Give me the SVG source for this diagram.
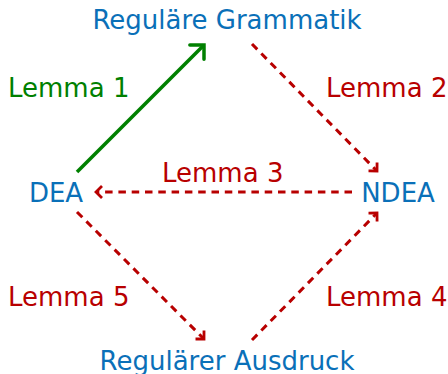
<svg xmlns="http://www.w3.org/2000/svg" width="448" height="374" viewBox="0 0 448 374">
  <style>
    .node { font-family: "DejaVu Sans", sans-serif; font-size: 26px; fill: #0a70b8; text-anchor: middle; }
    .lbl { font-family: "DejaVu Sans", sans-serif; font-size: 26px; }
    .red { fill: #b80000; }
    .green { fill: #008000; }
    .solid { stroke: #008000; stroke-width: 3.5; fill: none; }
    .dash { stroke: #b80000; stroke-width: 3; stroke-dasharray: 7.5 5.8; fill: none; }
  </style>
  <defs>
    <marker id="headGreen" markerUnits="userSpaceOnUse" markerWidth="30" markerHeight="30" viewBox="-15 -15 30 30" refX="0" refY="0" orient="auto">
      <path d="M-10,-10 L0,0 L-10,10" fill="none" stroke="#008000" stroke-width="3.5" stroke-linecap="round" stroke-linejoin="miter"/>
    </marker>
    <marker id="headRed" markerUnits="userSpaceOnUse" markerWidth="20" markerHeight="20" viewBox="-10 -10 20 20" refX="0" refY="0" orient="auto">
      <path d="M-6,-6 L0,0 L-6,6" fill="none" stroke="#b80000" stroke-width="2.8" stroke-linejoin="miter"/>
    </marker>
  </defs>

  <g id="connectors">
    <line id="lemma1" class="solid" x1="77" y1="172" x2="204" y2="45" marker-end="url(#headGreen)"/>
    <line id="lemma2" class="dash" x1="252" y1="44" x2="377" y2="171" marker-end="url(#headRed)"/>
    <line id="lemma3" class="dash" x1="352" y1="192" x2="96" y2="192" marker-end="url(#headRed)"/>
    <line id="lemma4" class="dash" x1="252" y1="340" x2="377" y2="213" marker-end="url(#headRed)"/>
    <line id="lemma5" class="dash" x1="77" y1="212" x2="204" y2="339" marker-end="url(#headRed)"/>
  </g>

  <g id="edge-labels">
    <text class="lbl green" x="8" y="97">Lemma 1</text>
    <text class="lbl red" x="326" y="97">Lemma 2</text>
    <text class="lbl red" x="162" y="182">Lemma 3</text>
    <text class="lbl red" x="326" y="306">Lemma 4</text>
    <text class="lbl red" x="8" y="306">Lemma 5</text>
  </g>

  <g id="grammatik"><text class="node" x="227" y="29">Reguläre Grammatik</text></g>
  <g id="dea"><text class="node" x="56" y="202">DEA</text></g>
  <g id="ndea"><text class="node" x="398" y="202">NDEA</text></g>
  <g id="ausdruck"><text class="node" x="227" y="370">Regulärer Ausdruck</text></g>
</svg>
